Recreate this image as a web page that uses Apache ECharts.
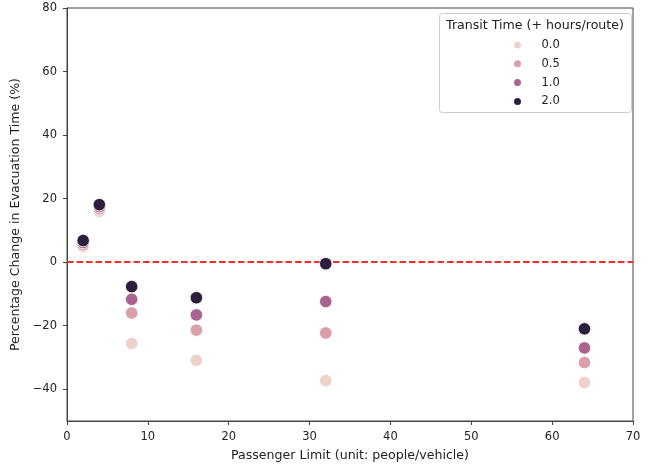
<!DOCTYPE html>
<html>
<head>
<meta charset="utf-8">
<script src="https://cdn.jsdelivr.net/npm/echarts@6/dist/echarts.min.js"></script>
<style>html,body{margin:0;padding:0;background:#fff}#c{width:658px;height:472px}</style>
</head>
<body>
<div id="c"></div>
<script>
const passengerLimits = [2, 4, 8, 16, 32, 64];
const transitLabels = ['0.0', '0.5', '1.0', '2.0'];
const change_0_0 = [4.8, 16.0, -25.6, -30.9, -37.3, -37.9];
const change_0_5 = [5.5, 16.8, -16.0, -21.4, -22.3, -31.6];
const change_1_0 = [6.2, 17.5, -11.7, -16.6, -12.4, -27.0];
const change_2_0 = [6.8, 18.1, -7.7, -11.2, -0.5, -21.0];
const yTicks = [-40, -20, 0, 20, 40, 60, 80];
const xTicks = [0, 10, 20, 30, 40, 50, 60, 70];
const colors = ['#edd1cb', '#d9a0aa', '#a8648f', '#2d1e3e'];
const allValues = [change_0_0, change_0_5, change_1_0, change_2_0];

const font = 'DejaVu Sans';
const chart = echarts.init(document.getElementById('c'), null, {renderer: 'canvas'});
const series = transitLabels.map((name, i) => ({
  name: name,
  type: 'scatter',
  data: passengerLimits.map((x, j) => [x, allValues[i][j]]),
  symbolSize: 12.5,
  itemStyle: {color: colors[i], opacity: 1, borderColor: '#fff', borderWidth: 0.8},
  z: 2 + i
}));
series.push({
  name: 'zero',
  type: 'line',
  data: [],
  z: 20,
  markLine: {
    silent: true,
    symbol: 'none',
    label: {show: false},
    lineStyle: {color: '#ff2a2a', width: 2, type: [6.5, 3], opacity: 1},
    data: [{yAxis: 0}]
  }
});
chart.setOption({
  animation: false,
  backgroundColor: '#fff',
  grid: {left: 67, right: 25, top: 8, bottom: 51, show: true, borderColor: '#444', borderWidth: 1, backgroundColor: 'transparent'},
  xAxis: {
    type: 'value', min: 0, max: 70,
    name: 'Passenger Limit (unit: people/vehicle)', nameLocation: 'middle', nameGap: 28,
    nameTextStyle: {fontFamily: font, fontSize: 12.6, color: '#222'},
    axisLine: {show: true, onZero: false, lineStyle: {color: '#444', width: 1}},
    axisTick: {show: true, inside: false, length: 4, customValues: xTicks, lineStyle: {color: '#444'}},
    axisLabel: {customValues: xTicks, fontFamily: font, fontSize: 11.5, color: '#222', margin: 10},
    splitLine: {show: false}
  },
  yAxis: {
    type: 'value', min: -50, max: 80,
    name: 'Percentage Change in Evacuation Time (%)', nameLocation: 'middle', nameGap: 44,
    nameTextStyle: {fontFamily: font, fontSize: 12.6, color: '#222'},
    axisLine: {show: true, onZero: false, lineStyle: {color: '#444', width: 1}},
    axisTick: {show: true, inside: false, length: 4, customValues: yTicks, lineStyle: {color: '#444'}},
    axisLabel: {customValues: yTicks, fontFamily: font, fontSize: 11.5, color: '#222', margin: 10,
      formatter: v => (v < 0 ? '\u2212' + Math.abs(v) : String(v))},
    splitLine: {show: false}
  },
  legend: {
    data: transitLabels,
    orient: 'vertical',
    left: 512, top: 38,
    icon: 'circle',
    itemWidth: 38, itemHeight: 9, itemGap: 4.8,
    textStyle: {fontFamily: font, fontSize: 11.5, color: '#222', lineHeight: 14},
    padding: 0
  },
  graphic: [
    {type: 'rect', shape: {x: 439.5, y: 13.5, width: 192, height: 99, r: 3}, style: {fill: '#fff', stroke: '#ccc', lineWidth: 1}, z: -1, silent: true},
    {type: 'text', x: 535, y: 26, style: {text: 'Transit Time (+ hours/route)', font: '12.6px "DejaVu Sans"', fill: '#222', textAlign: 'center', textVerticalAlign: 'middle'}, z: 10}
  ],
  series: series
});
</script>
</body>
</html>
